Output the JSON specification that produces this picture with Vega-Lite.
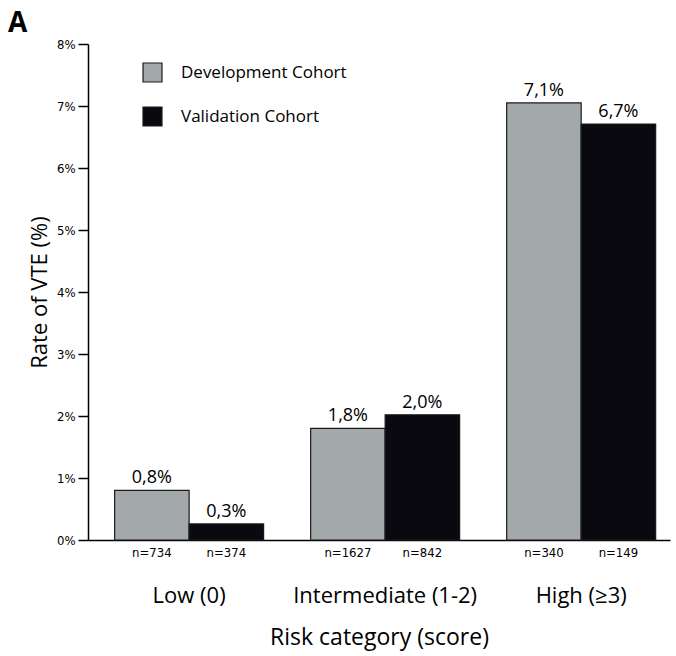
{
  "$schema": "https://vega.github.io/schema/vega-lite/v6.json",
  "width": 582,
  "height": 496,
  "autosize": "none",
  "padding": {"left": 88, "top": 44, "right": 6, "bottom": 116},
  "background": "white",
  "title": {"text": "A", "anchor": "start", "frame": "group", "dx": -80, "dy": 6, "offset": 6, "fontSize": 28, "fontWeight": "bold", "font": "Open Sans", "color": "black"},
  "config": {"view": {"stroke": null}, "font": "Open Sans"},
  "data": {"values": [
    {"category": "Low (0)", "cohort": "Development Cohort", "rate": 0.8, "label": "0,8%", "n": "n=734"},
    {"category": "Low (0)", "cohort": "Validation Cohort", "rate": 0.26, "label": "0,3%", "n": "n=374"},
    {"category": "Intermediate (1-2)", "cohort": "Development Cohort", "rate": 1.8, "label": "1,8%", "n": "n=1627"},
    {"category": "Intermediate (1-2)", "cohort": "Validation Cohort", "rate": 2.02, "label": "2,0%", "n": "n=842"},
    {"category": "High (≥3)", "cohort": "Development Cohort", "rate": 7.05, "label": "7,1%", "n": "n=340"},
    {"category": "High (≥3)", "cohort": "Validation Cohort", "rate": 6.71, "label": "6,7%", "n": "n=149"}
  ]},
  "encoding": {
    "x": {"field": "category", "type": "nominal", "sort": null,
      "scale": {"paddingInner": 0.24, "paddingOuter": 0.1045, "align": 0.65},
      "axis": {"title": "Risk category (score)", "labelAngle": 0, "labelFontSize": 22, "labelLimit": 400, "labelPadding": 45, "ticks": false, "domainColor": "black", "domainWidth": 1.5, "labelColor": "black", "titleFontSize": 23, "titleFontWeight": "normal", "titlePadding": 20, "titleColor": "black"}},
    "xOffset": {"field": "cohort", "type": "nominal", "scale": {"paddingInner": 0, "paddingOuter": 0}}
  },
  "layer": [
    {
      "mark": {"type": "bar", "stroke": "#1a1a1a", "strokeWidth": 1.2},
      "encoding": {
        "y": {"field": "rate", "type": "quantitative", "scale": {"domain": [0, 8]},
          "axis": {"title": "Rate of VTE (%)", "tickCount": 8, "grid": false, "labelExpr": "datum.value + '%'", "labelFont": "DejaVu Sans Condensed", "labelFontSize": 13, "labelColor": "black", "tickSize": 10, "tickColor": "black", "tickWidth": 1.5, "domainColor": "black", "domainWidth": 1.5, "labelPadding": 3, "titleFontSize": 22, "titleFontWeight": "normal", "titleColor": "black", "titlePadding": 5}},
        "fill": {"field": "cohort", "type": "nominal",
          "scale": {"range": ["#a3a9aa", "#0a090f"]},
          "legend": {"title": null, "orient": "none", "legendX": 54, "legendY": 18, "symbolType": "square", "symbolSize": 360, "symbolStrokeColor": "#1a1a1a", "symbolStrokeWidth": 1.2, "labelFontSize": 17, "labelLimit": 300, "labelColor": "black", "rowPadding": 19, "labelOffset": 18}}
      }
    },
    {
      "mark": {"type": "text", "baseline": "bottom", "dy": -3, "fontSize": 18, "color": "black"},
      "encoding": {
        "y": {"field": "rate", "type": "quantitative"},
        "text": {"field": "label"}
      }
    },
    {
      "mark": {"type": "text", "baseline": "top", "dy": 7, "fontSize": 13, "color": "black", "font": "DejaVu Sans Condensed"},
      "encoding": {
        "y": {"datum": 0},
        "text": {"field": "n"}
      }
    }
  ]
}
